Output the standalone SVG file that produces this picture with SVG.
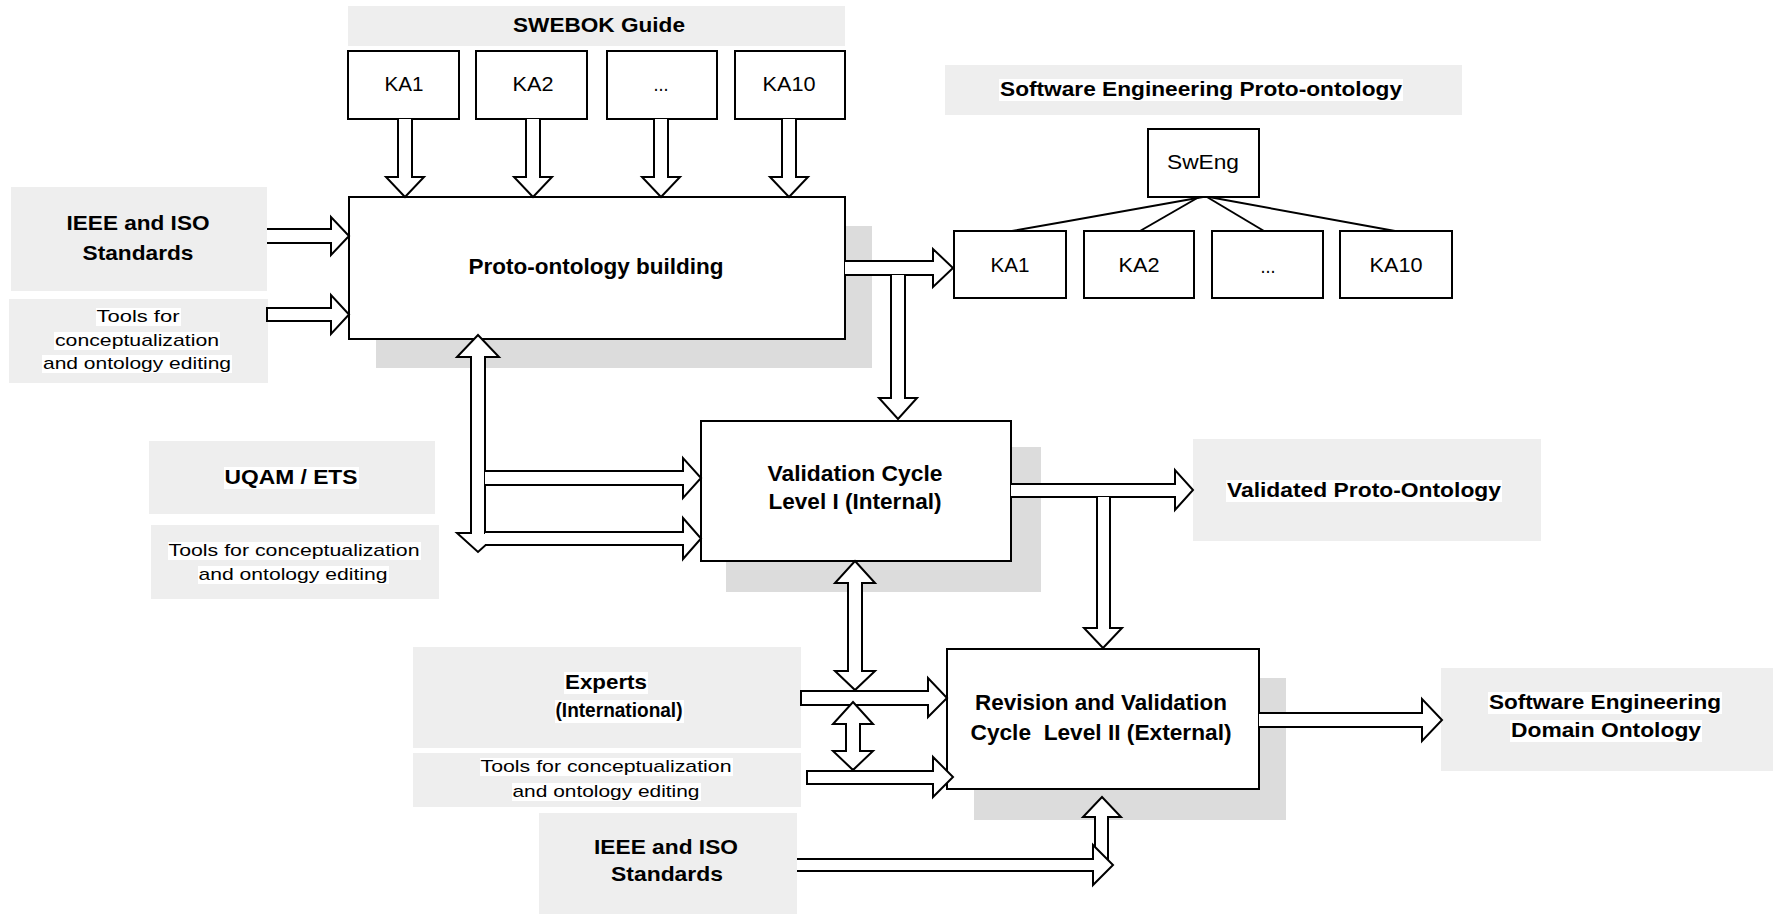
<svg xmlns="http://www.w3.org/2000/svg" width="1773" height="914" viewBox="0 0 1773 914">
<style>
.band{fill:#eeeeee}
.shadow{fill:#dcdcdc}
.box{fill:#fff;stroke:#000;stroke-width:2}
.arr{fill:#fff;stroke:#000;stroke-width:2;stroke-linejoin:miter}
.tree{fill:none;stroke:#000;stroke-width:2}
.hl{fill:#fff}
text{font-family:"Liberation Sans",Arial,sans-serif;fill:#000;text-anchor:middle}
.b{font-weight:bold;font-size:21px}
.b2{font-weight:bold;font-size:22px}
.n{font-size:21px}
.s{font-size:17px}
</style>
<rect width="1773" height="914" fill="#fff"/>

<g id="shadows">
<rect class="shadow" x="376" y="226" width="496" height="142"/>
<rect class="shadow" x="726" y="447" width="315" height="145"/>
<rect class="shadow" x="974" y="678" width="312" height="142"/>
</g>

<g id="swebok">
<rect class="band" x="348" y="6" width="497" height="40"/>
<text class="b" x="599" y="32" textLength="172" lengthAdjust="spacingAndGlyphs">SWEBOK Guide</text>
</g>
<g id="ka1-top"><rect class="box" x="348" y="51" width="111" height="68"/><text class="n" x="404" y="91" textLength="39" lengthAdjust="spacingAndGlyphs">KA1</text></g>
<g id="ka2-top"><rect class="box" x="476" y="51" width="111" height="68"/><text class="n" x="533" y="91" textLength="41" lengthAdjust="spacingAndGlyphs">KA2</text></g>
<g id="kadots-top"><rect class="box" x="607" y="51" width="110" height="68"/><text class="n" x="661" y="91" textLength="15" lengthAdjust="spacingAndGlyphs">...</text></g>
<g id="ka10-top"><rect class="box" x="735" y="51" width="110" height="68"/><text class="n" x="789" y="91" textLength="53" lengthAdjust="spacingAndGlyphs">KA10</text></g>

<g id="ieee-top">
<rect class="band" x="11" y="187" width="256" height="104"/>
<text class="b" x="138" y="230" textLength="143" lengthAdjust="spacingAndGlyphs">IEEE and ISO</text>
<text class="b" x="138" y="260" textLength="111" lengthAdjust="spacingAndGlyphs">Standards</text>
</g>
<g id="tools-top">
<rect class="band" x="9" y="299" width="259" height="84"/>
<rect class="hl" x="96" y="308" width="85" height="18"/>
<rect class="hl" x="54" y="332" width="166" height="18"/>
<rect class="hl" x="42" y="355" width="190" height="18"/>
<text class="s" x="138" y="322" textLength="83" lengthAdjust="spacingAndGlyphs">Tools for</text>
<text class="s" x="137" y="346" textLength="164" lengthAdjust="spacingAndGlyphs">conceptualization</text>
<text class="s" x="137" y="369" textLength="188" lengthAdjust="spacingAndGlyphs">and ontology editing</text>
</g>

<g id="proto-building">
<rect class="box" x="349" y="197" width="496" height="142"/>
<text class="b2" x="596" y="274" textLength="255" lengthAdjust="spacingAndGlyphs">Proto-ontology building</text>
</g>

<g id="se-proto-title">
<rect class="band" x="945" y="65" width="517" height="50"/>
<rect class="hl" x="999" y="79" width="404" height="22"/>
<text class="b" x="1201" y="96" textLength="402" lengthAdjust="spacingAndGlyphs">Software Engineering Proto-ontology</text>
</g>
<g id="sweng"><rect class="box" x="1148" y="129" width="111" height="68"/><text class="n" x="1203" y="169" textLength="72" lengthAdjust="spacingAndGlyphs">SwEng</text></g>
<g id="ka1-r"><rect class="box" x="954" y="231" width="112" height="67"/><text class="n" x="1010" y="272" textLength="39" lengthAdjust="spacingAndGlyphs">KA1</text></g>
<g id="ka2-r"><rect class="box" x="1084" y="231" width="110" height="67"/><text class="n" x="1139" y="272" textLength="41" lengthAdjust="spacingAndGlyphs">KA2</text></g>
<g id="kadots-r"><rect class="box" x="1212" y="231" width="111" height="67"/><text class="n" x="1268" y="273" textLength="15" lengthAdjust="spacingAndGlyphs">...</text></g>
<g id="ka10-r"><rect class="box" x="1340" y="231" width="112" height="67"/><text class="n" x="1396" y="272" textLength="53" lengthAdjust="spacingAndGlyphs">KA10</text></g>

<g id="uqam">
<rect class="band" x="149" y="441" width="286" height="73"/>
<rect class="hl" x="224" y="467" width="135" height="22"/>
<text class="b" x="291" y="484" textLength="133" lengthAdjust="spacingAndGlyphs">UQAM / ETS</text>
</g>
<g id="tools-uqam">
<rect class="band" x="151" y="525" width="288" height="74"/>
<rect class="hl" x="168" y="542" width="253" height="18"/>
<rect class="hl" x="198" y="566" width="191" height="18"/>
<text class="s" x="294" y="556" textLength="251" lengthAdjust="spacingAndGlyphs">Tools for conceptualization</text>
<text class="s" x="293" y="580" textLength="189" lengthAdjust="spacingAndGlyphs">and ontology editing</text>
</g>

<g id="validation1">
<rect class="box" x="701" y="421" width="310" height="140"/>
<text class="b2" x="855" y="481" textLength="175" lengthAdjust="spacingAndGlyphs">Validation Cycle</text>
<text class="b2" x="855" y="509" textLength="173" lengthAdjust="spacingAndGlyphs">Level I (Internal)</text>
</g>

<g id="validated">
<rect class="band" x="1193" y="439" width="348" height="102"/>
<rect class="hl" x="1226" y="480" width="276" height="22"/>
<text class="b" x="1364" y="497" textLength="274" lengthAdjust="spacingAndGlyphs">Validated Proto-Ontology</text>
</g>

<g id="experts">
<rect class="band" x="413" y="647" width="388" height="101"/>
<rect class="hl" x="564" y="672" width="84" height="22"/>
<rect class="hl" x="555" y="700" width="129" height="23"/>
<text class="b" x="606" y="689" textLength="82" lengthAdjust="spacingAndGlyphs">Experts</text>
<text class="b" x="619" y="717" textLength="127" lengthAdjust="spacingAndGlyphs">(International)</text>
</g>
<g id="tools-experts">
<rect class="band" x="413" y="753" width="388" height="54"/>
<rect class="hl" x="480" y="758" width="253" height="18"/>
<rect class="hl" x="512" y="783" width="189" height="18"/>
<text class="s" x="606" y="772" textLength="251" lengthAdjust="spacingAndGlyphs">Tools for conceptualization</text>
<text class="s" x="606" y="797" textLength="187" lengthAdjust="spacingAndGlyphs">and ontology editing</text>
</g>
<g id="ieee-bottom">
<rect class="band" x="539" y="813" width="258" height="101"/>
<text class="b" x="666" y="854" textLength="144" lengthAdjust="spacingAndGlyphs">IEEE and ISO</text>
<text class="b" x="667" y="881" textLength="112" lengthAdjust="spacingAndGlyphs">Standards</text>
</g>

<g id="revision2">
<rect class="box" x="947" y="649" width="312" height="140"/>
<text class="b2" x="1101" y="710" textLength="252" lengthAdjust="spacingAndGlyphs">Revision and Validation</text>
<text class="b2" x="1101" y="740" textLength="261" lengthAdjust="spacingAndGlyphs" xml:space="preserve">Cycle  Level II (External)</text>
</g>

<g id="sedo">
<rect class="band" x="1441" y="668" width="332" height="103"/>
<rect class="hl" x="1488" y="692" width="234" height="22"/>
<rect class="hl" x="1510" y="720" width="192" height="22"/>
<text class="b" x="1605" y="709" textLength="232" lengthAdjust="spacingAndGlyphs">Software Engineering</text>
<text class="b" x="1606" y="737" textLength="190" lengthAdjust="spacingAndGlyphs">Domain Ontology</text>
</g>

<g id="connectors">
<polyline class="tree" points="1203,197 1063,222 1012,231"/>
<line class="tree" x1="1199" y1="197" x2="1140" y2="231"/>
<line class="tree" x1="1207" y1="197" x2="1264" y2="231"/>
<line class="tree" x1="1209" y1="197" x2="1395" y2="231"/>
<path class="arr" d="M398,119 V177 H386 L405,197 L424,177 H412 V119"/>
<path class="arr" d="M526,119 V177 H514 L533,197 L552,177 H540 V119"/>
<path class="arr" d="M654,119 V177 H642 L661,197 L680,177 H668 V119"/>
<path class="arr" d="M782,119 V177 H770 L789,197 L808,177 H796 V119"/>
<path class="arr" d="M267,229 H331 V217 L349,236 L331,255 V243 H267"/>
<path class="arr" d="M267,308 H331 V295 L349,314.5 L331,334 V321 H267 Z"/>
<path class="arr" d="M845,261 H933 V249 L953,268 L933,287 V275 H845"/>
<path class="arr" d="M891,275 V398 H879 L898,419 L917,398 H905 V275"/>
<path class="arr" d="M478,335 L499,357 H485 V533 H499 L478,552 L457,533 H471 V357 H457 Z"/>
<path class="arr" d="M485,471 H683 V458 L701,478 L683,498 V485 H485"/>
<path class="arr" d="M485,532 H683 V518 L701,538.5 L683,559 V545 H485"/>
<path class="arr" d="M1011,484 H1175 V470 L1193,490 L1175,510 V497 H1011"/>
<path class="arr" d="M1097,497 V628 H1084 L1103,648 L1122,628 H1110 V497"/>
<path class="arr" d="M855,561 L875,583 H862 V671 H875 L855,690 L835,671 H848 V583 H835 Z"/>
<path class="arr" d="M801,691 H928 V678 L947,698 L928,717 V705 H801 Z"/>
<path class="arr" d="M853,702 L873,724 H860 V751 H873 L853,770 L833,751 H846 V724 H833 Z"/>
<path class="arr" d="M807,771 H933 V757 L953,777 L933,797 V784 H807 Z"/>
<path class="arr" d="M1259,713 H1422 V699 L1442,720 L1422,741 V727 H1259"/>
<path class="arr" d="M1095,866 V817 H1083 L1102,797 L1121,817 H1108 V866"/>
<path class="arr" d="M797,859 H1093 V845 L1113,865 L1093,885 V871 H797"/>
</g>
</svg>
